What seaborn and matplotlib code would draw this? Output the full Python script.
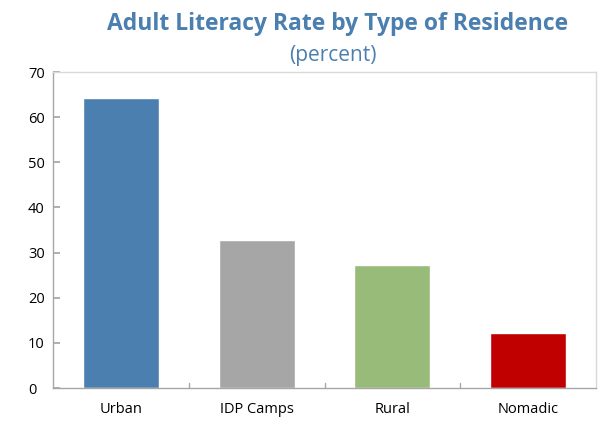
import matplotlib
matplotlib.use("Agg")
import matplotlib.pyplot as plt
import seaborn as sns
import pandas as pd

categories = ["Urban", "IDP Camps", "Rural", "Nomadic"]
values = [64.2, 32.8, 27.3, 12.2]
colors = ["#4a7fb0", "#a6a6a6", "#98bb7a", "#c00000"]
yticks = [0, 10, 20, 30, 40, 50, 60, 70]

sns.set_theme(style="white")
plt.rcParams["font.family"] = ["Open Sans", "DejaVu Sans"]

df = pd.DataFrame({"cat": categories, "val": values})
fig = plt.figure(figsize=(5.98, 4.24), dpi=100)
ax = fig.add_axes([53/598, 1 - 388/424, (596-53)/598, (388-72)/424])
sns.barplot(data=df, x="cat", y="val", hue="cat", palette=colors, legend=False,
            width=0.56, ax=ax, saturation=1)
ax.set_xlim(-0.5, 3.5)
ax.set_ylim(0, 70)
ax.set_yticks(yticks)
ax.set_xlabel("")
ax.set_ylabel("")
for s in ["left", "bottom"]:
    ax.spines[s].set_color("#a6a6a6")
    ax.spines[s].set_linewidth(1)
for s in ["top", "right"]:
    ax.spines[s].set_color("#d9d9d9")
    ax.spines[s].set_linewidth(1)
ax.tick_params(axis="y", direction="in", length=5, color="#a6a6a6", labelsize=10.5,
               left=True, pad=18, labelcolor="#000000")
ax.set_yticklabels([str(t) for t in yticks], ha="left")
ax.tick_params(axis="x", length=0, labelsize=10.5, pad=10, labelcolor="#000000")
for b in [0.5, 1.5, 2.5]:
    ax.plot([b, b], [0, 1.2], color="#a6a6a6", lw=1, clip_on=False)

fig.text(338/598, 1 - 24/424, "Adult Literacy Rate by Type of Residence", ha="center",
         va="center", fontsize=16.5, fontweight="bold", color="#4a7fb0")
fig.text(333/598, 1 - 56/424, "(percent)", ha="center", va="center", fontsize=15,
         color="#4a7fb0")
fig.savefig("out.png", dpi=100)
